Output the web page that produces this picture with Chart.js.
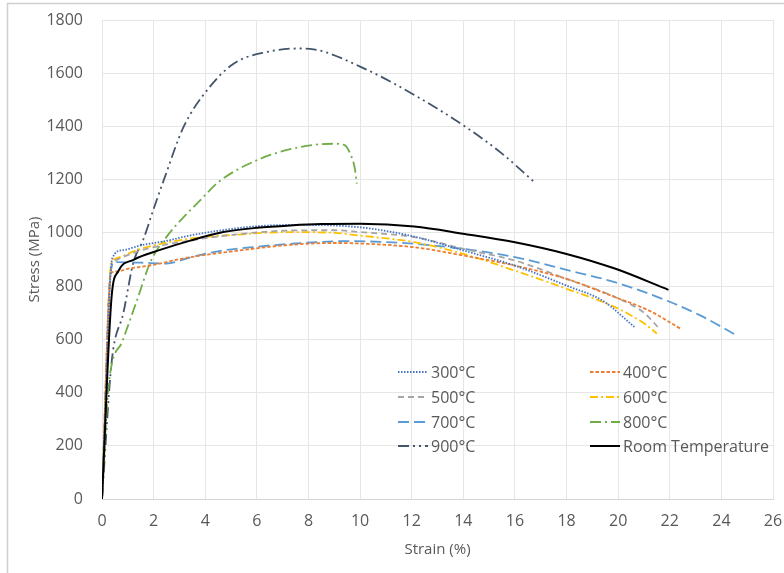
<!DOCTYPE html>
<html>
<head>
<meta charset="utf-8">
<title>Stress-strain curves</title>
<script src="https://cdn.jsdelivr.net/npm/chart.js@4"></script>
<style>
  html, body { margin: 0; padding: 0; background: #fff; }
  #wrap { width: 784px; height: 573px; }
</style>
</head>
<body>
<div id="wrap"><canvas id="grafico" width="784" height="573"></canvas></div>
<script>
// tick values
const xTicks = [0, 2, 4, 6, 8, 10, 12, 14, 16, 18, 20, 22, 24, 26];
const yTicks = [0, 200, 400, 600, 800, 1000, 1200, 1400, 1600, 1800];

const seriesNames = ['300°C', '400°C', '500°C', '600°C', '700°C', '800°C', '900°C', 'Room Temperature'];

// strain (%) / stress (MPa) per test temperature
const strain300 = [0, 0.4, 0.8, 1.5, 2.5, 3.4, 4.5, 6.0, 7.5, 9.0, 10.5, 12.1, 14.0, 16.0, 18.0, 19.4, 20.65];
const stress300 = [0, 905, 935, 953, 970, 990, 1008, 1025, 1030, 1028, 1015, 986, 934, 877, 802, 745, 645];

const strain400 = [0, 0.35, 0.6, 1.0, 2.0, 3.2, 5.0, 7.3, 9.0, 10.0, 12.1, 14.0, 16.0, 18.0, 19.9, 21.2, 22.45];
const stress400 = [0, 850, 855, 865, 880, 905, 930, 955, 962, 960, 946, 915, 877, 827, 758, 708, 638];

const strain500 = [0, 0.35, 0.5, 1.5, 3.0, 5.0, 7.3, 9.0, 10.0, 12.1, 14.0, 16.0, 18.0, 19.9, 21.0, 21.55];
const stress500 = [0, 870, 896, 934, 965, 992, 1009, 1010, 1003, 984, 940, 896, 827, 758, 700, 645];

const strain600 = [0, 0.35, 0.5, 1.5, 3.4, 5.0, 7.3, 9.0, 10.0, 12.1, 14.0, 16.0, 18.0, 19.9, 21.0, 21.5];
const stress600 = [0, 880, 902, 940, 978, 992, 1003, 1000, 990, 965, 921, 858, 790, 720, 660, 622];

const strain700 = [0, 0.35, 0.5, 1.5, 2.5, 3.5, 4.7, 6.0, 7.3, 9.5, 12.1, 14.3, 16.0, 18.0, 19.9, 21.9, 23.2, 24.6];
const stress700 = [0, 860, 890, 888, 885, 910, 934, 948, 959, 969, 959, 936, 909, 861, 814, 745, 689, 614];

const strain800 = [0, 0.25, 0.8, 1.35, 1.9, 2.5, 3.1, 3.8, 4.5, 6.0, 7.7, 9.0, 9.4, 9.65, 9.8, 9.87];
const stress800 = [0, 420, 595, 745, 896, 985, 1053, 1122, 1190, 1273, 1323, 1335, 1330, 1290, 1240, 1185];

const strain900 = [0, 0.38, 0.83, 1.22, 1.6, 2.0, 2.4, 3.16, 4.07, 5.1, 6.4, 7.6, 8.2, 10.0, 12.0, 14.0, 15.5, 16.75];
const stress900 = [0, 520, 700, 890, 975, 1090, 1200, 1398, 1536, 1636, 1680, 1693, 1690, 1625, 1524, 1404, 1298, 1191];

const strainRT = [0, 0.37, 0.63, 1.22, 2.25, 3.42, 4.7, 6.0, 7.3, 8.5, 10.0, 12.1, 14.0, 16.0, 18.0, 19.9, 21.95];
const stressRT = [0, 758, 856, 899, 936, 971, 1003, 1019, 1028, 1033, 1034, 1024, 997, 965, 921, 865, 786];

const punti = (xs, ys) => xs.map((x, i) => ({ x: x, y: ys[i] }));

const stili = [
  { color: '#4472C4', dash: [1.5, 1.5] },
  { color: '#ED7D31', dash: [3.5, 2] },
  { color: '#A5A5A5', dash: [6, 4] },
  { color: '#FFC000', dash: [8, 3, 2, 3] },
  { color: '#5B9BD5', dash: [11, 5] },
  { color: '#70AD47', dash: [11, 4, 2, 4] },
  { color: '#44546A', dash: [11, 4, 2, 4, 2, 4] },
  { color: '#000000', dash: [] }
];

const serie = [
  punti(strain300, stress300),
  punti(strain400, stress400),
  punti(strain500, stress500),
  punti(strain600, stress600),
  punti(strain700, stress700),
  punti(strain800, stress800),
  punti(strain900, stress900),
  punti(strainRT, stressRT)
];

const FONT = '"Open Sans", Lato, sans-serif';
const GRIGIO = '#595959';

// white background and thin outer frame
const cornice = {
  id: 'cornice',
  beforeDraw(chart) {
    const c = chart.ctx;
    c.save();
    c.fillStyle = '#fff';
    c.fillRect(0, 0, chart.width, chart.height);
    c.strokeStyle = '#d0d0d0';
    c.lineWidth = 1.5;
    c.strokeRect(7.5, 3.5, chart.width + 20, chart.height + 20);
    c.restore();
  }
};

// two-column legend inside the plot area
const legenda = {
  id: 'legenda',
  afterDraw(chart) {
    const c = chart.ctx;
    const colX = [398, 590];
    const rowY = [372, 397, 422, 446];
    c.save();
    c.font = '16px ' + FONT;
    c.textBaseline = 'middle';
    chart.data.datasets.forEach((ds, i) => {
      const x = colX[i % 2];
      const y = rowY[Math.floor(i / 2)];
      c.strokeStyle = ds.borderColor;
      c.lineWidth = ds.borderWidth;
      c.setLineDash(ds.borderDash || []);
      c.beginPath();
      c.moveTo(x, y);
      c.lineTo(x + 30, y);
      c.stroke();
      c.setLineDash([]);
      c.fillStyle = GRIGIO;
      c.fillText(ds.label, x + 33, y + 1);
    });
    c.restore();
  }
};

const ctx = document.getElementById('grafico').getContext('2d');
const grafico = new Chart(ctx, {
  type: 'scatter',
  data: {
    datasets: serie.map((pts, i) => ({
      label: seriesNames[i],
      data: pts,
      showLine: true,
      borderColor: stili[i].color,
      backgroundColor: stili[i].color,
      borderDash: stili[i].dash,
      borderWidth: i === 7 ? 2 : 1.8,
      pointRadius: 0,
      cubicInterpolationMode: 'monotone',
      order: i === 7 ? 0 : 1
    }))
  },
  options: {
    responsive: false,
    animation: false,
    layout: { padding: { top: 20, right: 11, left: 0, bottom: 0 } },
    plugins: {
      legend: { display: false },
      tooltip: { enabled: false }
    },
    scales: {
      x: {
        type: 'linear',
        min: 0,
        max: 26,
        afterBuildTicks: s => { s.ticks = xTicks.map(v => ({ value: v })); },
        afterFit: s => { s.height = 74; s.paddingLeft = 0; s.paddingRight = 0; },
        grid: { color: '#e6e6e6', drawTicks: false },
        border: { color: '#d4d4d4' },
        ticks: {
          color: GRIGIO, padding: 13, font: { family: FONT, size: 16 },
          callback: v => String(v)
        },
        title: {
          display: true,
          text: 'Strain (%)',
          color: GRIGIO,
          font: { family: FONT, size: 15 },
          padding: { bottom: 14 }
        }
      },
      y: {
        type: 'linear',
        min: 0,
        max: 1800,
        afterBuildTicks: s => { s.ticks = yTicks.map(v => ({ value: v })); },
        afterFit: s => { s.width = 102; s.paddingTop = 0; s.paddingBottom = 0; },
        grid: { color: '#e6e6e6', drawTicks: false },
        border: { display: false },
        ticks: {
          color: GRIGIO, padding: 19, font: { family: FONT, size: 16 },
          callback: v => String(v)
        },
        title: {
          display: true,
          text: 'Stress (MPa)',
          color: GRIGIO,
          font: { family: FONT, size: 15 },
          padding: { top: 26 }
        }
      }
    }
  },
  plugins: [cornice, legenda]
});
</script>
</body>
</html>
